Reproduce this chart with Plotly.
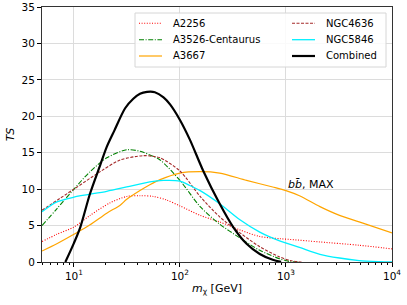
import plotly.graph_objects as go
import numpy as np

# --- data ---
a2256_x = [5, 6.9, 10, 14.2, 21.8, 31.5, 42, 56, 75, 100, 155, 237, 368, 566, 870, 1090, 2090, 4900, 10000]
a2256_y = [2.8, 3.8, 4.8, 6.4, 8.1, 9.0, 9.1, 9.0, 8.5, 7.7, 6.4, 5.5, 4.4, 3.5, 3.2, 3.1, 2.75, 2.3, 1.8]

ngc4636_x = [5, 10, 17.7, 27.3, 45, 56, 65, 100, 155, 237, 368, 566, 870, 1100, 1400]
ngc4636_y = [7.1, 10.0, 12.4, 14.0, 14.6, 14.5, 14.3, 12.5, 9.0, 6.2, 4.0, 2.1, 0.7, 0.2, 0.0]

a3526_x = [5, 6.9, 10, 14.2, 20.4, 31.5, 42, 52, 65, 100, 155, 237, 368, 566, 870, 1100, 1300]
a3526_y = [5.0, 7.3, 10.0, 12.4, 14.3, 15.4, 15.2, 14.7, 14.0, 11.2, 7.6, 5.2, 3.3, 1.6, 0.45, 0.05, 0.0]

ngc5846_x = [5, 6.9, 10, 20.4, 31.5, 52, 70, 100, 124, 155, 237, 368, 566, 870, 1340, 2090, 3200, 4900, 7600, 10000]
ngc5846_y = [6.9, 8.25, 8.9, 9.7, 10.3, 11.0, 11.2, 11.1, 10.5, 9.8, 8.0, 5.8, 4.1, 2.9, 2.0, 1.06, 0.55, 0.2, 0.05, 0.0]

a3667_x = [5, 6.9, 10, 14.2, 20.4, 27.3, 31.5, 42, 52, 65, 100, 155, 237, 425, 750, 1000, 1340, 2090, 3200, 4900, 10000]
a3667_y = [1.5, 2.5, 3.8, 5.1, 6.7, 7.8, 8.6, 9.8, 10.6, 11.3, 12.2, 12.4, 12.2, 11.2, 10.3, 9.8, 9.1, 7.6, 6.4, 5.5, 4.0]

comb_x = [8.3, 10, 11.5, 14.2, 17.7, 20.4, 24, 30.4, 36.3, 42, 49, 58, 70, 81, 100, 124, 166, 237, 318, 425, 566, 750, 900]
comb_y = [0, 2.6, 4.8, 9.4, 13.3, 15.8, 18.0, 21.1, 22.4, 23.1, 23.35, 23.3, 22.6, 21.6, 19.5, 16.8, 12.5, 8.0, 4.8, 2.5, 1.1, 0.3, 0.02]

x_tick_vals = [10, 100, 1000, 10000]
x_tick_text = ["10<sup>1</sup>", "10<sup>2</sup>", "10<sup>3</sup>", "10<sup>4</sup>"]
y_tick_vals = [0, 5, 10, 15, 20, 25, 30, 35]

FONT = "DejaVu Sans"
W, H = 407, 305
ML, MR, MT, MB = 42, 15, 7, 43
PW, PH = W - ML - MR, H - MT - MB

def px2paper_x(px):
    return (px - ML) / PW

def px2paper_y(py):
    return (H - MB - py) / PH

# name, x, y, line style, legend column, legend row
series = [
    ("A2256", a2256_x, a2256_y, dict(color="#ff0000", width=1.1, dash="1px,1.6px"), 0, 0),
    ("A3526-Centaurus", a3526_x, a3526_y, dict(color="#008000", width=1.1, dash="5px,1.6px,1px,1.6px"), 0, 1),
    ("A3667", a3667_x, a3667_y, dict(color="#ffa500", width=1.2), 0, 2),
    ("NGC4636", ngc4636_x, ngc4636_y, dict(color="#a52a2a", width=1.1, dash="3px,1.5px"), 1, 0),
    ("NGC5846", ngc5846_x, ngc5846_y, dict(color="#00f0ff", width=1.3), 1, 1),
    ("Combined", comb_x, comb_y, dict(color="#000000", width=2.2), 1, 2),
]

fig = go.Figure()
for name, xs, ys, ln, col, row in series:
    fig.add_trace(go.Scatter(x=xs, y=ys, mode="lines", name=name, showlegend=False,
                             line=dict(shape="spline", smoothing=0.8, **ln)))

# manual legend (box, line samples, labels)
shapes = [dict(type="rect", xref="paper", yref="paper",
               x0=px2paper_x(135), x1=px2paper_x(386), y0=px2paper_y(67), y1=px2paper_y(13),
               fillcolor="rgba(255,255,255,0.85)", line=dict(color="#d6d6d6", width=1),
               layer="above")]
annotations = []
col_line_x = [(139, 162), (292, 315)]
col_text_x = [171, 324]
row_y = [23.3, 39.7, 56.0]
for name, xs, ys, ln, col, row in series:
    x0, x1 = col_line_x[col]
    yy = px2paper_y(row_y[row])
    shapes.append(dict(type="line", xref="paper", yref="paper",
                       x0=px2paper_x(x0), x1=px2paper_x(x1), y0=yy, y1=yy,
                       line=ln, layer="above"))
    annotations.append(dict(x=px2paper_x(col_text_x[col]), y=yy, xref="paper", yref="paper",
                            xanchor="left", yanchor="middle", text=name, showarrow=False,
                            font=dict(family=FONT, size=10, color="black")))

annotations.append(dict(
    x=np.log10(1000), y=10.7, xref="x", yref="y", xanchor="left", yanchor="middle",
    text="<i>b</i><i>b̄</i>, MAX", showarrow=False, font=dict(family=FONT, size=11),
))

minor_vals = [m * 10 ** d for d in range(0, 4) for m in range(2, 10) if 5 <= m * 10 ** d <= 10000]

fig.update_layout(
    width=W, height=H,
    margin=dict(l=ML, r=MR, t=MT, b=MB, autoexpand=False),
    paper_bgcolor="white", plot_bgcolor="white",
    font=dict(family=FONT, size=10, color="black"),
    showlegend=False,
    shapes=shapes,
    annotations=annotations,
)

fig.update_xaxes(
    type="log", range=[np.log10(5), 4], automargin=False,
    tickvals=x_tick_vals, ticktext=x_tick_text,
    ticks="outside", ticklen=4, tickcolor="black",
    showgrid=True, gridcolor="#dcdcdc", gridwidth=1,
    showline=True, linecolor="#333333", linewidth=1, mirror=True,
    zeroline=False,
    minor=dict(tickvals=minor_vals, ticks="outside", ticklen=2, tickcolor="black", showgrid=False),
    title=dict(text="<i>m</i><sub>χ</sub> [GeV]", font=dict(family=FONT, size=11), standoff=3),
    tickfont=dict(family=FONT, size=10.5),
)
fig.update_yaxes(
    range=[0, 35], tickvals=y_tick_vals, automargin=False,
    ticks="outside", ticklen=4, tickcolor="black",
    showgrid=True, gridcolor="#dcdcdc", gridwidth=1,
    showline=True, linecolor="#333333", linewidth=1, mirror=True,
    zeroline=False,
    title=dict(text="<i>TS</i>", font=dict(family=FONT, size=11), standoff=4),
    tickfont=dict(family=FONT, size=10.5),
)

fig.write_html("out.html", config={"displayModeBar": False},
               post_script="document.body.style.margin='0';")
